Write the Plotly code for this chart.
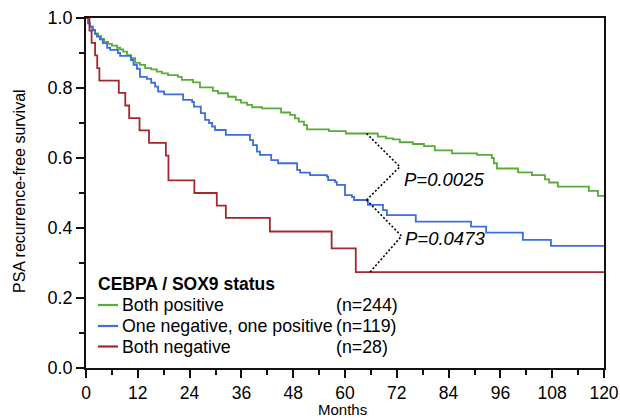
import plotly.graph_objects as go

# ---------------- data ----------------
groups = ["Both positive", "One negative, one positive", "Both negative"]
n_values = [244, 119, 28]
colors = ["#5aab3a", "#3c6ee2", "#a3282a"]

green_t = [0, 0.5, 0.9, 1.4, 2.1, 2.8, 3.5, 4.2, 5.1, 6.0, 7.2, 7.9, 8.6, 9.5, 10.4,
           11.4, 12.5, 13.7, 15.1, 16.4, 17.6, 19.0, 21.3, 22.2, 24.8, 26.4, 29.4, 30.6,
           32.9, 34.7, 35.9, 37.3, 38.5, 40.8, 45.2, 47.3, 48.4, 49.3, 50.5, 51.2, 56.3,
           60.2, 67.6, 69.5, 71.1, 72.7, 75.7, 78.3, 80.8, 84.8, 90.6, 94.0, 94.5, 95.2,
           100.1, 103.3, 106.3, 107.3, 109.3, 116.5, 118.6, 120]
green_s = [1.0, 0.985, 0.975, 0.966, 0.955, 0.948, 0.94, 0.932, 0.926, 0.921, 0.915, 0.91,
           0.904, 0.894, 0.885, 0.872, 0.866, 0.857, 0.853, 0.847, 0.842, 0.837, 0.832,
           0.823, 0.816, 0.802, 0.792, 0.785, 0.775, 0.766, 0.758, 0.752, 0.745, 0.742,
           0.73, 0.723, 0.713, 0.704, 0.694, 0.682, 0.677, 0.67, 0.661, 0.656, 0.653,
           0.645, 0.64, 0.634, 0.622, 0.613, 0.609, 0.6, 0.585, 0.57, 0.559, 0.551, 0.539,
           0.53, 0.518, 0.506, 0.492, 0.492]

blue_t = [0, 0.5, 0.9, 1.6, 2.1, 2.5, 3.2, 3.9, 4.9, 5.6, 7.4, 7.9, 10.4, 11.0, 11.8,
          12.5, 14.1, 15.1, 16.0, 16.7, 18.1, 22.5, 24.6, 25.0, 26.6, 27.6, 28.5, 29.2,
          29.9, 32.4, 38.0, 38.7, 39.6, 40.3, 42.9, 44.5, 48.9, 49.6, 51.9, 55.8, 56.1,
          57.7, 58.1, 60.0, 61.6, 62.1, 65.3, 68.8, 69.7, 76.4, 89.2, 92.7, 101.2, 107.7,
          120]
blue_s = [1.0, 0.985, 0.975, 0.965, 0.955, 0.947, 0.939, 0.928, 0.915, 0.909, 0.9, 0.892,
          0.88, 0.866, 0.855, 0.832, 0.826, 0.815, 0.804, 0.79, 0.782, 0.766, 0.76, 0.747,
          0.728, 0.709, 0.7, 0.69, 0.68, 0.666, 0.651, 0.637, 0.618, 0.609, 0.594, 0.585,
          0.566, 0.558, 0.551, 0.547, 0.537, 0.532, 0.523, 0.494, 0.489, 0.48, 0.466,
          0.451, 0.437, 0.418, 0.404, 0.387, 0.366, 0.349, 0.349]

red_t = [0, 0.8, 1.3, 2.1, 2.6, 3.1, 7.6, 9.1, 10.0, 12.4, 14.6, 18.5, 19.1, 25.1, 30.3,
         32.4, 42.6, 56.9, 62.5, 120]
red_s = [1.0, 0.964, 0.929, 0.893, 0.857, 0.821, 0.786, 0.75, 0.714, 0.679, 0.643, 0.607,
         0.536, 0.5, 0.464, 0.429, 0.39, 0.342, 0.274, 0.274]

x_ticks = [0, 12, 24, 36, 48, 60, 72, 84, 96, 108, 120]
y_ticks = [0.0, 0.2, 0.4, 0.6, 0.8, 1.0]

# comparisons: (upper curve index, lower curve index, t at upper, t at lower, t at vertex, label)
comparisons = [(0, 1, 65.0, 65.0, 72.7, "P=0.0025"),
               (1, 2, 65.0, 65.8, 73.1, "P=0.0473")]
label_offsets = [-0.035, -0.008]

series = [(green_t, green_s), (blue_t, blue_s), (red_t, red_s)]


def step_at(ts, ss, t):
    v = ss[0]
    for ti, si in zip(ts, ss):
        if ti <= t:
            v = si
        else:
            break
    return v


FONT = "Liberation Sans, Arial, Helvetica, sans-serif"

fig = go.Figure()
for (ts, ss), name, c in zip(series, groups, colors):
    fig.add_trace(go.Scatter(x=ts, y=ss, mode="lines", line_shape="hv",
                             line=dict(color=c, width=1.8), name=name,
                             showlegend=False, hoverinfo="skip"))

# P-value brackets
for (ia, ib, ta, tb, tv, lab), off in zip(comparisons, label_offsets):
    ya = step_at(*series[ia], ta)
    yb = step_at(*series[ib], tb)
    yv = (ya + yb) / 2
    fig.add_trace(go.Scatter(x=[ta, tv, tb], y=[ya, yv, yb], mode="lines",
                             line=dict(color="black", width=1.6, dash="2px,2px"),
                             showlegend=False, hoverinfo="skip"))
    fig.add_annotation(x=tv + 0.4, y=yv + off, xref="x", yref="y", text="<i>%s</i>" % lab,
                       showarrow=False, xanchor="left", yanchor="middle",
                       font=dict(family=FONT, size=18.5, color="black"))

# manual legend (paper coords)
PW, PH = 518.0, 350.0
def px(xp):
    return (xp - 86) / PW
def py(yp):
    return (368 - yp) / PH

fig.add_annotation(x=px(96), y=py(284), xref="paper", yref="paper",
                   text="<b>CEBPA / SOX9 status</b>", showarrow=False,
                   xanchor="left", yanchor="middle",
                   font=dict(family=FONT, size=17.5, color="black"))
row_y = [305, 326, 346.5]
for name, n, c, yy in zip(groups, n_values, colors, row_y):
    fig.add_shape(type="line", xref="paper", yref="paper",
                  x0=px(98), x1=px(118), y0=py(yy), y1=py(yy),
                  line=dict(color=c, width=2.2))
    fig.add_annotation(x=px(120), y=py(yy), xref="paper", yref="paper", text=name,
                       showarrow=False, xanchor="left", yanchor="middle",
                       font=dict(family=FONT, size=17.8, color="black"))
    fig.add_annotation(x=px(334), y=py(yy), xref="paper", yref="paper", text="(n=%d)" % n,
                       showarrow=False, xanchor="left", yanchor="middle",
                       font=dict(family=FONT, size=17.8, color="black"))

# axis titles
fig.add_annotation(x=px(342.5), y=py(409.5), xref="paper", yref="paper", text="Months",
                   showarrow=False, xanchor="center", yanchor="middle", borderpad=0,
                   font=dict(family=FONT, size=15, color="black"))
fig.add_annotation(x=px(19), y=py(191), xref="paper", yref="paper",
                   text="PSA recurrence-free survival", textangle=-90,
                   showarrow=False, xanchor="center", yanchor="middle",
                   font=dict(family=FONT, size=16, color="black"))

axis_common = dict(showgrid=False, zeroline=False, showline=True, linecolor="#111",
                   linewidth=1.6, mirror=True, ticks="outside", ticklen=8, tickwidth=1.5,
                   tickcolor="#111", automargin=False)
fig.update_xaxes(range=[0, 120], tickvals=x_ticks, ticktext=[str(v) for v in x_ticks],
                 tickfont=dict(family=FONT, size=17.5, color="black"),
                 minor=dict(dtick=6, tick0=0, ticks="outside", ticklen=5, tickwidth=1.5,
                            tickcolor="#111", showgrid=False),
                 **axis_common)
fig.update_yaxes(range=[0, 1], tickvals=y_ticks, ticktext=["%.1f" % v for v in y_ticks],
                 tickfont=dict(family=FONT, size=18, color="black"),
                 minor=dict(dtick=0.1, tick0=0, ticks="outside", ticklen=5, tickwidth=1.5,
                            tickcolor="#111", showgrid=False),
                 **axis_common)

fig.update_layout(width=620, height=418, margin=dict(l=86, r=16, t=18, b=50),
                  plot_bgcolor="white", paper_bgcolor="white", showlegend=False,
                  font=dict(family=FONT, color="black"))

fig.write_html("out.html")
